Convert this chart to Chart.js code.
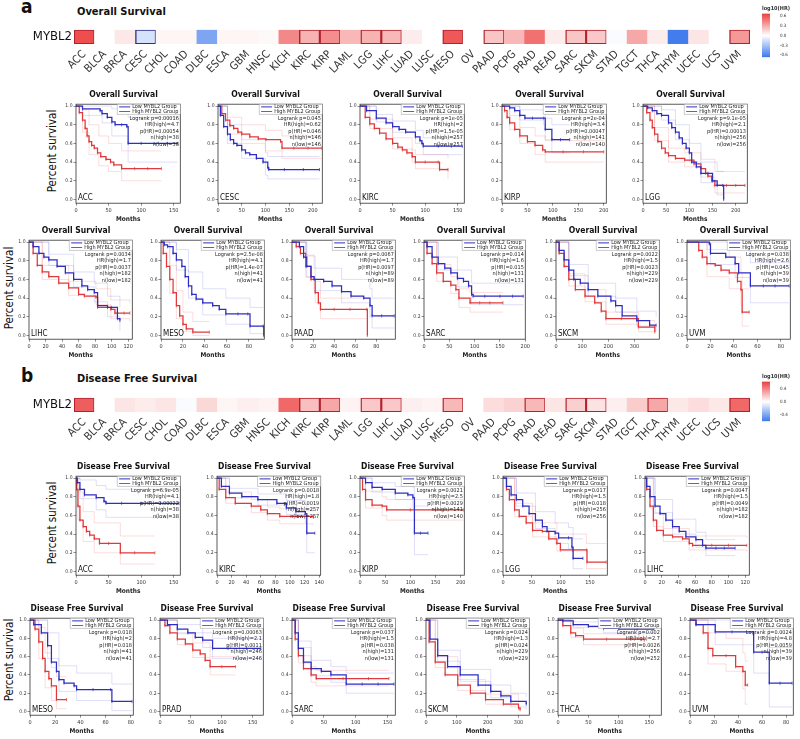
<!DOCTYPE html>
<html>
<head>
<meta charset="utf-8">
<script src="https://cdn.jsdelivr.net/npm/chart.js@4.4.1/dist/chart.umd.min.js"></script>
<style>
  body { margin: 0; width: 800px; height: 739px; position: relative; overflow: hidden; background: #fff;
         font-family: "Liberation Sans Narrow", "DejaVu Sans Condensed", Roboto, sans-serif; color: #111; }
  canvas { position: absolute; }
  .t { position: absolute; white-space: nowrap; }
  .ps { position: absolute; width: 100px; height: 14px; line-height: 14px; font-size: 11.5px; text-align: center;
        transform: rotate(-90deg); white-space: nowrap; }
</style>
</head>
<body>
<div class="t" style="left:21px;top:-3px;font-size:19px;line-height:19px;font-weight:700">a</div>
<div class="t" style="left:77px;top:6px;font-size:11px;line-height:11px;font-weight:600">Overall Survival</div>
<div class="t" style="left:21px;top:366px;font-size:19px;line-height:19px;font-weight:700">b</div>
<div class="t" style="left:77px;top:373px;font-size:11px;line-height:11px;font-weight:600">Disease Free Survival</div>
<div class="ps" style="left:2px;top:144px">Percent survival</div>
<div class="ps" style="left:-41px;top:281px">Percent survival</div>
<div class="ps" style="left:2px;top:516px">Percent survival</div>
<div class="ps" style="left:-41px;top:653px">Percent survival</div>

<script>
// ---- heatmap data ----
const cancers = ['ACC','BLCA','BRCA','CESC','CHOL','COAD','DLBC','ESCA','GBM','HNSC','KICH','KIRC','KIRP','LAML',
  'LGG','LIHC','LUAD','LUSC','MESO','OV','PAAD','PCPG','PRAD','READ','SARC','SKCM','STAD','TGCT','THCA','THYM','UCEC','UCS','UVM'];
const osHR  = [0.55,0,0.07,-0.13,0.03,0.03,-0.4,0.03,0.03,0.02,0.37,0.24,0.35,0.22,0.24,0.22,0.06,0,0.52,0,0.18,0.22,0.44,0.06,0.18,0.17,-0.02,0.27,0.06,-0.58,0.08,0,0.32];
const osSig = [1,0,0,1,0,0,0,0,0,0,0,1,1,0,1,1,0,0,1,0,1,0,0,0,1,1,0,0,0,0,0,0,1];
const dfsHR  = [0.5,0,0.08,0.06,0.08,-0.02,0.12,0.03,0.05,0.04,0.47,0.2,0.27,0.04,0.17,0.17,0.05,0.04,0.22,0,0.11,0.14,0.22,0.08,0.15,0.09,0.05,0.16,0.27,0.07,0.11,0.07,0.47];
const dfsSig = [1,0,0,0,0,0,0,0,0,0,0,1,1,0,1,1,0,0,1,0,0,0,1,0,1,1,0,0,1,0,0,0,1];
const osBarTicks = [0.6,0.3,0,-0.3,-0.6];
const dfsBarTicks = [0.4,0,-0.4];
const survTicks = [0,0.2,0.4,0.6,0.8,1];

// ---- Overall survival curves: [months, survival]; CI: [months, lower, upper] ----
const osAccLow = [[0,1],[10,0.97],[37,0.95],[40,0.92],[48,0.88],[55,0.83],[60,0.8],[70,0.8],[78,0.78],[80,0.6],[100,0.6],[120,0.6],[140,0.6],[156,0.6]];
const osAccHigh = [[0,1],[5,0.93],[10,0.85],[14,0.76],[17,0.68],[20,0.62],[24,0.58],[28,0.55],[33,0.5],[38,0.46],[46,0.43],[53,0.4],[58,0.37],[70,0.33],[90,0.33],[110,0.33],[131,0.33]];
const osAccLowCI = [[0,1,1],[10,0.9,1],[40,0.82,1],[55,0.68,0.97],[80,0.4,0.88],[156,0.4,0.88]];
const osAccHighCI = [[0,1,1],[10,0.72,0.96],[20,0.48,0.8],[35,0.36,0.68],[50,0.3,0.6],[70,0.2,0.52],[131,0.2,0.52]];
const osAccStats = ['Logrank p=0.00016','HR(high)=4.7','p(HR)=0.00054','n(high)=38','n(low)=38'];

const osCescLow = [[0,1],[5,0.9],[12,0.78],[20,0.7],[26,0.64],[33,0.6],[40,0.58],[50,0.53],[58,0.5],[67,0.48],[81,0.44],[95,0.4],[105,0.34],[107,0.32],[140,0.32],[180,0.32],[214,0.32]];
const osCescHigh = [[0,1],[8,0.92],[16,0.85],[25,0.79],[33,0.76],[42,0.72],[50,0.7],[67,0.67],[85,0.65],[101,0.64],[132,0.62],[135,0.55],[160,0.55],[190,0.55],[218,0.55]];
const osCescLowCI = [[0,1,1],[20,0.6,0.8],[50,0.44,0.64],[100,0.26,0.5],[105,0.22,0.46],[214,0.22,0.46]];
const osCescHighCI = [[0,1,1],[20,0.7,0.88],[50,0.6,0.8],[100,0.52,0.74],[135,0.44,0.68],[218,0.44,0.68]];
const osCescStats = ['Logrank p=0.045','HR(high)=0.62','p(HR)=0.046','n(high)=146','n(low)=146'];

const osKircLow = [[0,1],[10,0.95],[25,0.87],[40,0.82],[50,0.78],[60,0.75],[70,0.72],[85,0.67],[92,0.63],[95,0.6],[97,0.57],[120,0.57],[140,0.57],[157,0.57]];
const osKircHigh = [[0,1],[8,0.88],[15,0.81],[22,0.76],[30,0.71],[40,0.65],[50,0.6],[58,0.56],[65,0.53],[72,0.5],[80,0.46],[85,0.4],[100,0.4],[120,0.4],[122,0.32],[135,0.32]];
const osKircLowCI = [[0,1,1],[25,0.83,0.91],[50,0.72,0.84],[85,0.6,0.74],[97,0.48,0.66],[157,0.48,0.66]];
const osKircHighCI = [[0,1,1],[15,0.76,0.86],[50,0.54,0.66],[80,0.4,0.53],[85,0.33,0.48],[120,0.33,0.48],[135,0.22,0.44]];
const osKircStats = ['Logrank p=1e-05','HR(high)=2','p(HR)=1.5e-05','n(high)=257','n(low)=257'];

const osKirpLow = [[0,1],[15,0.98],[25,0.95],[35,0.9],[45,0.87],[60,0.87],[82,0.87],[85,0.75],[98,0.64],[115,0.64],[133,0.64]];
const osKirpHigh = [[0,1],[5,0.95],[10,0.88],[15,0.82],[25,0.75],[35,0.68],[50,0.62],[65,0.58],[80,0.53],[85,0.51],[120,0.51],[160,0.51],[200,0.51]];
const osKirpLowCI = [[0,1,1],[35,0.85,0.96],[82,0.8,0.95],[85,0.64,0.87],[98,0.5,0.8],[133,0.5,0.8]];
const osKirpHighCI = [[0,1,1],[15,0.75,0.9],[35,0.6,0.77],[65,0.48,0.68],[85,0.4,0.63],[200,0.4,0.63]];
const osKirpStats = ['Logrank p=2e-04','HR(high)=3.4','p(HR)=0.00047','n(high)=141','n(low)=140'];

const osLggLow = [[0,1],[10,0.98],[20,0.95],[30,0.92],[40,0.9],[55,0.82],[62,0.77],[70,0.72],[78,0.66],[85,0.6],[93,0.55],[100,0.5],[105,0.4],[115,0.35],[125,0.28],[140,0.28],[150,0.2],[160,0.15],[172,0.15],[174,0]];
const osLggHigh = [[0,1],[8,0.93],[15,0.85],[20,0.77],[25,0.7],[32,0.62],[40,0.55],[48,0.5],[55,0.47],[70,0.44],[90,0.42],[110,0.38],[125,0.33],[135,0.28],[140,0.25],[148,0.2],[155,0.15],[180,0.15],[200,0.15],[220,0.15]];
const osLggLowCI = [[0,1,1],[40,0.85,0.96],[70,0.64,0.8],[100,0.4,0.6],[125,0.18,0.4],[160,0.05,0.3],[175,0.05,0.3]];
const osLggHighCI = [[0,1,1],[25,0.63,0.77],[55,0.4,0.55],[90,0.35,0.5],[125,0.24,0.43],[155,0.07,0.3],[220,0.07,0.3]];
const osLggStats = ['Logrank p=9.1e-05','HR(high)=2.1','p(HR)=0.00013','n(high)=256','n(low)=256'];

const osLihcLow = [[0,1],[5,0.95],[12,0.88],[18,0.84],[24,0.81],[34,0.74],[44,0.67],[54,0.6],[64,0.53],[71,0.49],[79,0.46],[83,0.32],[95,0.3],[100,0.3],[107,0.18],[110,0.16]];
const osLihcHigh = [[0,1],[5,0.88],[10,0.75],[16,0.68],[24,0.63],[36,0.56],[48,0.51],[60,0.44],[67,0.42],[81,0.41],[83,0.3],[99,0.28],[104,0.24],[115,0.24],[122,0.24]];
const osLihcLowCI = [[0,1,1],[24,0.75,0.87],[54,0.52,0.68],[79,0.36,0.56],[95,0.2,0.42],[110,0.05,0.3]];
const osLihcHighCI = [[0,1,1],[16,0.6,0.75],[48,0.43,0.58],[81,0.33,0.5],[99,0.18,0.38],[122,0.15,0.35]];
const osLihcStats = ['Logrank p=0.0034','HR(high)=1.7','p(HR)=0.0037','n(high)=182','n(low)=182'];

const osMesoLow = [[0,1],[3,0.97],[6,0.95],[11,0.88],[14,0.81],[19,0.74],[22,0.63],[25,0.53],[28,0.44],[32,0.39],[38,0.35],[47,0.32],[53,0.28],[59,0.23],[70,0.23],[79,0.23],[81,0.1],[93,0.1],[93.5,0]];
const osMesoHigh = [[0,1],[2,0.88],[5,0.74],[8,0.6],[11,0.46],[14,0.32],[17,0.21],[20,0.12],[23,0.07],[29,0.035],[44,0.035]];
const osMesoLowCI = [[0,1,1],[14,0.7,0.92],[25,0.4,0.68],[38,0.22,0.5],[59,0.12,0.4],[81,0.02,0.3],[93,0.02,0.3]];
const osMesoHighCI = [[0,1,1],[8,0.45,0.75],[14,0.18,0.48],[20,0.04,0.25],[29,0,0.15],[44,0,0.15]];
const osMesoStats = ['Logrank p=2.5e-08','HR(high)=4.1','p(HR)=1.4e-07','n(high)=41','n(low)=41'];

const osPaadLow = [[0,1],[7,0.95],[11,0.84],[14,0.74],[18,0.63],[21,0.6],[30,0.58],[38,0.53],[47,0.47],[56,0.42],[68,0.4],[74,0.32],[76,0.21],[85,0.21],[97,0.21]];
const osPaadHigh = [[0,1],[4,0.95],[8,0.88],[13,0.74],[18,0.6],[22,0.46],[25,0.35],[27,0.28],[40,0.28],[55,0.28],[71,0.28],[71.5,0]];
const osPaadLowCI = [[0,1,1],[14,0.62,0.86],[21,0.48,0.72],[47,0.35,0.6],[74,0.2,0.5],[76,0.08,0.4],[97,0.08,0.4]];
const osPaadHighCI = [[0,1,1],[13,0.63,0.85],[22,0.35,0.58],[27,0.18,0.4],[71,0.18,0.4]];
const osPaadStats = ['Logrank p=0.0067','HR(high)=1.7','p(HR)=0.0097','n(high)=89','n(low)=89'];

const osSarcLow = [[0,1],[6,0.95],[16,0.84],[28,0.77],[41,0.72],[53,0.67],[66,0.61],[78,0.58],[88,0.53],[94,0.44],[97,0.42],[120,0.42],[150,0.42],[175,0.42],[196,0.42]];
const osSarcHigh = [[0,1],[6,0.88],[16,0.77],[25,0.67],[38,0.58],[53,0.54],[63,0.49],[69,0.4],[91,0.35],[110,0.35],[130,0.35],[156,0.35]];
const osSarcLowCI = [[0,1,1],[28,0.7,0.84],[66,0.52,0.7],[94,0.33,0.56],[196,0.33,0.56]];
const osSarcHighCI = [[0,1,1],[25,0.58,0.76],[53,0.45,0.63],[69,0.3,0.5],[91,0.25,0.46],[156,0.25,0.46]];
const osSarcStats = ['Logrank p=0.014','HR(high)=1.6','p(HR)=0.015','n(high)=131','n(low)=131'];

const osSkcmLow = [[0,1],[12,0.91],[31,0.81],[49,0.7],[68,0.6],[93,0.56],[123,0.49],[160,0.42],[210,0.37],[228,0.32],[253,0.21],[309,0.16],[358,0.11],[383,0.11]];
const osSkcmHigh = [[0,1],[12,0.88],[31,0.74],[49,0.6],[74,0.49],[111,0.42],[148,0.35],[173,0.26],[191,0.18],[250,0.18],[309,0.18],[315,0.09],[377,0.09],[378,0.04]];
const osSkcmLowCI = [[0,1,1],[49,0.64,0.76],[123,0.42,0.56],[228,0.25,0.4],[309,0.1,0.26],[383,0.04,0.2]];
const osSkcmHighCI = [[0,1,1],[49,0.53,0.66],[111,0.36,0.49],[191,0.12,0.25],[315,0.04,0.16],[377,0.02,0.14]];
const osSkcmStats = ['Logrank p=0.0022','HR(high)=1.5','p(HR)=0.0023','n(high)=229','n(low)=229'];

const osUvmLow = [[0,1],[19,0.98],[20,0.88],[33,0.84],[41,0.77],[44,0.67],[54,0.53],[65,0.53],[75,0.53],[87,0.53]];
const osUvmHigh = [[0,1],[10,0.91],[13,0.84],[17,0.77],[24,0.75],[29,0.7],[36,0.67],[43,0.58],[46,0.49],[47,0.25],[53,0.25]];
const osUvmLowCI = [[0,1,1],[20,0.76,1],[41,0.62,0.92],[54,0.35,0.78],[87,0.35,0.78]];
const osUvmHighCI = [[0,1,1],[17,0.63,0.92],[36,0.5,0.84],[46,0.32,0.68],[47,0.1,0.5],[53,0.1,0.5]];
const osUvmStats = ['Logrank p=0.038','HR(high)=2.6','p(HR)=0.045','n(high)=39','n(low)=39'];

// ---- Disease free survival curves ----
const dfsAccLow = [[0,1],[2,0.95],[6,0.88],[13,0.82],[31,0.79],[43,0.75],[46,0.73],[70,0.73],[100,0.73],[130,0.73],[158,0.73]];
const dfsAccHigh = [[0,1],[1,0.88],[3,0.7],[6,0.55],[11,0.48],[16,0.43],[21,0.39],[28,0.35],[36,0.3],[50,0.3],[68,0.2],[90,0.2],[121,0.2]];
const dfsAccLowCI = [[0,1,1],[6,0.78,0.98],[31,0.66,0.92],[46,0.58,0.88],[158,0.58,0.88]];
const dfsAccHighCI = [[0,1,1],[3,0.55,0.85],[11,0.32,0.64],[28,0.2,0.52],[68,0.08,0.38],[121,0.08,0.38]];
const dfsAccStats = ['Logrank p=6.9e-05','HR(high)=4.1','p(HR)=0.00022','n(high)=38','n(low)=38'];

const dfsKircLow = [[0,1],[6,0.91],[17,0.84],[34,0.8],[56,0.77],[82,0.73],[95,0.68],[108,0.64],[121,0.62],[123,0.41],[134,0.41]];
const dfsKircHigh = [[0,1],[3,0.88],[12,0.79],[25,0.73],[47,0.7],[60,0.66],[69,0.62],[86,0.59],[110,0.59],[132,0.58]];
const dfsKircLowCI = [[0,1,1],[17,0.79,0.89],[56,0.71,0.83],[95,0.61,0.76],[121,0.52,0.72],[123,0.2,0.65],[134,0.2,0.65]];
const dfsKircHighCI = [[0,1,1],[12,0.73,0.85],[47,0.63,0.77],[69,0.55,0.69],[86,0.51,0.67],[132,0.5,0.66]];
const dfsKircStats = ['Logrank p=0.0018','HR(high)=1.8','p(HR)=0.0019','n(high)=257','n(low)=257'];

const dfsKirpLow = [[0,1],[11,0.95],[24,0.9],[44,0.88],[70,0.84],[95,0.82],[105,0.79],[108,0.41],[120,0.41],[135,0.41]];
const dfsKirpHigh = [[0,1],[5,0.88],[11,0.77],[24,0.71],[44,0.7],[53,0.66],[100,0.66],[150,0.66],[205,0.66]];
const dfsKirpLowCI = [[0,1,1],[24,0.85,0.95],[70,0.77,0.91],[105,0.68,0.9],[108,0.18,0.7],[135,0.18,0.7]];
const dfsKirpHighCI = [[0,1,1],[11,0.68,0.86],[44,0.6,0.8],[53,0.55,0.77],[205,0.55,0.77]];
const dfsKirpStats = ['Logrank p=0.0021','HR(high)=2.5','p(HR)=0.0029','n(high)=141','n(low)=140'];

const dfsLggLow = [[0,1],[6,0.91],[14,0.82],[23,0.77],[34,0.7],[45,0.62],[56,0.55],[68,0.48],[76,0.43],[90,0.41],[96,0.36],[113,0.36],[119,0.26],[121,0.14],[138,0.14]];
const dfsLggHigh = [[0,1],[6,0.88],[11,0.77],[20,0.66],[28,0.59],[40,0.52],[51,0.44],[68,0.43],[79,0.35],[93,0.3],[99,0.23],[120,0.23],[144,0.23],[145,0.1],[178,0.1]];
const dfsLggLowCI = [[0,1,1],[23,0.7,0.84],[56,0.46,0.64],[90,0.3,0.52],[113,0.24,0.47],[121,0.03,0.35],[138,0.03,0.35]];
const dfsLggHighCI = [[0,1,1],[20,0.59,0.73],[51,0.37,0.52],[93,0.22,0.4],[144,0.03,0.3],[178,0.03,0.3]];
const dfsLggStats = ['Logrank p=0.017','HR(high)=1.5','p(HR)=0.018','n(high)=256','n(low)=256'];

const dfsLihcLow = [[0,1],[2,0.91],[6,0.8],[12,0.7],[18,0.62],[25,0.55],[33,0.48],[41,0.43],[49,0.37],[61,0.34],[69,0.28],[73,0.25],[85,0.25],[95,0.25],[108,0.25]];
const dfsLihcHigh = [[0,1],[2,0.88],[6,0.7],[10,0.55],[14,0.44],[22,0.39],[33,0.37],[45,0.35],[53,0.3],[57,0.28],[80,0.28],[100,0.28],[122,0.28]];
const dfsLihcLowCI = [[0,1,1],[12,0.63,0.77],[33,0.4,0.56],[61,0.26,0.42],[73,0.17,0.34],[108,0.17,0.34]];
const dfsLihcHighCI = [[0,1,1],[10,0.48,0.62],[22,0.32,0.46],[53,0.23,0.38],[122,0.21,0.36]];
const dfsLihcStats = ['Logrank p=0.0047','HR(high)=1.5','p(HR)=0.0049','n(high)=182','n(low)=182'];

const dfsMesoLow = [[0,1],[3,0.95],[9,0.86],[14,0.72],[17,0.54],[21,0.44],[23,0.35],[27,0.31],[35,0.28],[37,0.24],[50,0.24],[64,0.24],[65,0.11],[81,0.11]];
const dfsMesoHigh = [[0,1],[4,0.9],[7,0.76],[10,0.58],[12,0.44],[15,0.36],[17,0.28],[21,0.13],[29,0.13]];
const dfsMesoLowCI = [[0,1,1],[14,0.58,0.86],[23,0.22,0.5],[37,0.12,0.42],[65,0.01,0.3],[81,0.01,0.3]];
const dfsMesoHighCI = [[0,1,1],[7,0.58,0.92],[12,0.26,0.64],[17,0.12,0.48],[21,0.03,0.38],[29,0.03,0.38]];
const dfsMesoStats = ['Logrank p=0.018','HR(high)=2','p(HR)=0.018','n(high)=41','n(low)=41'];

const dfsPradLow = [[0,1],[12,0.95],[28,0.9],[45,0.86],[57,0.81],[69,0.78],[85,0.69],[110,0.69],[140,0.69],[163,0.69]];
const dfsPradHigh = [[0,1],[8,0.94],[16,0.86],[28,0.79],[41,0.74],[53,0.67],[65,0.63],[73,0.56],[81,0.49],[100,0.49],[122,0.49]];
const dfsPradLowCI = [[0,1,1],[28,0.86,0.95],[69,0.7,0.86],[85,0.58,0.8],[163,0.58,0.8]];
const dfsPradHighCI = [[0,1,1],[28,0.73,0.85],[53,0.59,0.75],[81,0.4,0.6],[122,0.4,0.6]];
const dfsPradStats = ['Logrank p=0.00063','HR(high)=2.1','p(HR)=0.0011','n(high)=246','n(low)=246'];

const dfsSarcLow = [[0,1],[5,0.86],[10,0.69],[18,0.54],[30,0.47],[46,0.44],[61,0.4],[85,0.3],[110,0.3],[135,0.3],[160,0.3]];
const dfsSarcHigh = [[0,1],[5,0.79],[10,0.61],[18,0.47],[30,0.4],[38,0.36],[80,0.36],[120,0.36],[152,0.36]];
const dfsSarcLowCI = [[0,1,1],[10,0.61,0.77],[30,0.39,0.56],[61,0.32,0.49],[85,0.2,0.42],[160,0.2,0.42]];
const dfsSarcHighCI = [[0,1,1],[10,0.53,0.7],[30,0.32,0.49],[38,0.28,0.45],[152,0.28,0.45]];
const dfsSarcStats = ['Logrank p=0.037','HR(high)=1.5','p(HR)=0.038','n(high)=131','n(low)=131'];

const dfsSkcmLow = [[0,1],[13,0.79],[38,0.61],[70,0.49],[111,0.4],[169,0.29],[210,0.22],[243,0.17],[275,0.11],[325,0.08]];
const dfsSkcmHigh = [[0,1],[10,0.76],[30,0.54],[62,0.4],[103,0.29],[144,0.2],[193,0.13],[251,0.08],[300,0.04],[305,0.02]];
const dfsSkcmLowCI = [[0,1,1],[38,0.55,0.67],[111,0.33,0.46],[210,0.15,0.29],[275,0.05,0.2],[325,0.02,0.16]];
const dfsSkcmHighCI = [[0,1,1],[30,0.48,0.6],[103,0.23,0.35],[193,0.08,0.19],[300,0.01,0.1]];
const dfsSkcmStats = ['Logrank p=0.024','HR(high)=1.3','p(HR)=0.024','n(high)=229','n(low)=229'];

const dfsThcaLow = [[0,1],[8,0.99],[25,0.95],[50,0.93],[75,0.91],[100,0.9],[130,0.9],[158,0.9]];
const dfsThcaHigh = [[0,1],[8,0.94],[21,0.86],[29,0.83],[42,0.79],[80,0.79],[120,0.79],[142,0.78]];
const dfsThcaLowCI = [[0,1,1],[25,0.92,0.98],[75,0.86,0.95],[158,0.85,0.95]];
const dfsThcaHighCI = [[0,1,1],[21,0.81,0.91],[42,0.73,0.85],[142,0.71,0.85]];
const dfsThcaStats = ['Logrank p=0.002','HR(high)=2.7','p(HR)=0.0026','n(high)=256','n(low)=252'];

const dfsUvmLow = [[0,1],[5,0.95],[21,0.87],[35,0.87],[53,0.65],[60,0.65],[66,0.31],[75,0.31],[85,0.31]];
const dfsUvmHigh = [[0,1],[5,0.95],[11,0.86],[15,0.69],[19,0.61],[30,0.61],[38,0.49],[44,0.44],[46,0.29],[48,0.29]];
const dfsUvmLowCI = [[0,1,1],[21,0.73,1],[53,0.42,0.9],[66,0.05,0.7],[85,0.05,0.7]];
const dfsUvmHighCI = [[0,1,1],[15,0.52,0.86],[30,0.44,0.8],[44,0.25,0.64],[46,0.08,0.55],[48,0.08,0.55]];
const dfsUvmStats = ['Logrank p=0.0024','HR(high)=4.8','p(HR)=0.0059','n(high)=39','n(low)=39'];

// ---- panels: name, x max, x step, curves ----
const OS = 'Overall Survival', DFS = 'Disease Free Survival';
const rowA1 = [
  {name:'ACC', xMax:160, step:50, low:osAccLow, high:osAccHigh, lowCI:osAccLowCI, highCI:osAccHighCI, stats:osAccStats},
  {name:'CESC', xMax:220, step:50, low:osCescLow, high:osCescHigh, lowCI:osCescLowCI, highCI:osCescHighCI, stats:osCescStats},
  {name:'KIRC', xMax:160, step:50, low:osKircLow, high:osKircHigh, lowCI:osKircLowCI, highCI:osKircHighCI, stats:osKircStats},
  {name:'KIRP', xMax:205, step:50, low:osKirpLow, high:osKirpHigh, lowCI:osKirpLowCI, highCI:osKirpHighCI, stats:osKirpStats},
  {name:'LGG', xMax:225, step:50, low:osLggLow, high:osLggHigh, lowCI:osLggLowCI, highCI:osLggHighCI, stats:osLggStats}
];
const rowA2 = [
  {name:'LIHC', xMax:125, step:20, low:osLihcLow, high:osLihcHigh, lowCI:osLihcLowCI, highCI:osLihcHighCI, stats:osLihcStats},
  {name:'MESO', xMax:94, step:20, low:osMesoLow, high:osMesoHigh, lowCI:osMesoLowCI, highCI:osMesoHighCI, stats:osMesoStats},
  {name:'PAAD', xMax:98, step:20, low:osPaadLow, high:osPaadHigh, lowCI:osPaadLowCI, highCI:osPaadHighCI, stats:osPaadStats},
  {name:'SARC', xMax:200, step:50, low:osSarcLow, high:osSarcHigh, lowCI:osSarcLowCI, highCI:osSarcHighCI, stats:osSarcStats},
  {name:'SKCM', xMax:395, step:100, low:osSkcmLow, high:osSkcmHigh, lowCI:osSkcmLowCI, highCI:osSkcmHighCI, stats:osSkcmStats},
  {name:'UVM', xMax:88, step:20, low:osUvmLow, high:osUvmHigh, lowCI:osUvmLowCI, highCI:osUvmHighCI, stats:osUvmStats}
];
const rowB1 = [
  {name:'ACC', xMax:160, step:50, low:dfsAccLow, high:dfsAccHigh, lowCI:dfsAccLowCI, highCI:dfsAccHighCI, stats:dfsAccStats},
  {name:'KIRC', xMax:142, step:20, low:dfsKircLow, high:dfsKircHigh, lowCI:dfsKircLowCI, highCI:dfsKircHighCI, stats:dfsKircStats},
  {name:'KIRP', xMax:207, step:50, low:dfsKirpLow, high:dfsKirpHigh, lowCI:dfsKirpLowCI, highCI:dfsKirpHighCI, stats:dfsKirpStats},
  {name:'LGG', xMax:180, step:50, low:dfsLggLow, high:dfsLggHigh, lowCI:dfsLggLowCI, highCI:dfsLggHighCI, stats:dfsLggStats},
  {name:'LIHC', xMax:125, step:20, low:dfsLihcLow, high:dfsLihcHigh, lowCI:dfsLihcLowCI, highCI:dfsLihcHighCI, stats:dfsLihcStats}
];
const rowB2 = [
  {name:'MESO', xMax:82, step:20, low:dfsMesoLow, high:dfsMesoHigh, lowCI:dfsMesoLowCI, highCI:dfsMesoHighCI, stats:dfsMesoStats},
  {name:'PRAD', xMax:167, step:50, low:dfsPradLow, high:dfsPradHigh, lowCI:dfsPradLowCI, highCI:dfsPradHighCI, stats:dfsPradStats},
  {name:'SARC', xMax:162, step:50, low:dfsSarcLow, high:dfsSarcHigh, lowCI:dfsSarcLowCI, highCI:dfsSarcHighCI, stats:dfsSarcStats},
  {name:'SKCM', xMax:335, step:100, low:dfsSkcmLow, high:dfsSkcmHigh, lowCI:dfsSkcmLowCI, highCI:dfsSkcmHighCI, stats:dfsSkcmStats},
  {name:'THCA', xMax:170, step:50, low:dfsThcaLow, high:dfsThcaHigh, lowCI:dfsThcaLowCI, highCI:dfsThcaHighCI, stats:dfsThcaStats},
  {name:'UVM', xMax:86, step:20, low:dfsUvmLow, high:dfsUvmHigh, lowCI:dfsUvmLowCI, highCI:dfsUvmHighCI, stats:dfsUvmStats}
];

// ---- drawing ----
const FONT = '"Liberation Sans Narrow", "DejaVu Sans Condensed", Roboto, sans-serif';
const BLUE = '#2e2ec2', RED = '#e0393b';
Chart.defaults.font.family = FONT;
Chart.defaults.color = '#222';
Chart.defaults.animation = false;

function colorFor(v) {
  const t = Math.max(-1, Math.min(1, v / 0.6));
  const end = t >= 0 ? [236, 62, 62] : [60, 120, 236];
  const a = Math.abs(t);
  return 'rgb(' + end.map(e => Math.round(255 + (e - 255) * a)).join(',') + ')';
}

function addCanvas(left, top, width, height) {
  const c = document.createElement('canvas');
  c.width = Math.round(width);
  c.height = Math.round(height);
  c.style.left = left + 'px';
  c.style.top = top + 'px';
  document.body.appendChild(c);
  return c;
}

function drawHeatmap(cellTop, values, sig) {
  const cv = addCanvas(0, cellTop - 3, 756, 60);
  new Chart(cv, {
    type: 'bar',
    data: {
      labels: cancers,
      datasets: [{
        data: cancers.map(() => [0, 1]),
        backgroundColor: values.map(colorFor),
        borderColor: values.map((v, i) => sig[i] ? (v < 0 ? '#2d2d90' : '#b3222c') : 'rgba(0,0,0,0)'),
        borderWidth: sig.map(s => s ? 1.4 : 0),
        borderSkipped: false,
        categoryPercentage: 1,
        barPercentage: 1
      }]
    },
    options: {
      responsive: false,
      layout: { padding: { top: 3, right: 6, left: 0, bottom: 0 } },
      plugins: { legend: { display: false }, tooltip: { enabled: false } },
      scales: {
        x: {
          grid: { display: false, drawTicks: false }, border: { display: false },
          ticks: { autoSkip: false, minRotation: 45, maxRotation: 45, padding: 4, font: { size: 11 }, color: '#333' },
          afterFit: s => { s.height = 36; }
        },
        y: {
          min: 0, max: 1, grid: { display: false, drawTicks: false }, border: { display: false },
          afterBuildTicks: s => { s.ticks = [{ value: 0.5 }]; },
          ticks: { callback: () => 'MYBL2', font: { size: 13 }, color: '#111', padding: 2 },
          afterFit: s => { s.width = 74; }
        }
      }
    }
  });
}

function drawColorBar(barTop, barBottom, min, max, ticks) {
  const titleH = 5.5 * 1.2 + 2;
  const cv = addCanvas(762, barTop - titleH - 1, 34, Math.ceil(titleH + 2 + barBottom - barTop));
  new Chart(cv, {
    type: 'bar',
    data: {
      labels: [''],
      datasets: [{
        data: [[min, max]],
        categoryPercentage: 1, barPercentage: 1,
        backgroundColor: ctx => {
          const a = ctx.chart.chartArea;
          if (!a) return '#fff';
          const g = ctx.chart.ctx.createLinearGradient(0, a.bottom, 0, a.top);
          g.addColorStop(0, colorFor(min));
          g.addColorStop(-min / (max - min), '#ffffff');
          g.addColorStop(1, colorFor(max));
          return g;
        }
      }]
    },
    options: {
      responsive: false,
      layout: { padding: { top: 1, left: 0, right: 0, bottom: 1 } },
      plugins: {
        legend: { display: false }, tooltip: { enabled: false },
        title: { display: true, text: 'log10(HR)', align: 'start', font: { size: 5.5 }, color: '#333', padding: { top: 0, bottom: 2 } }
      },
      scales: {
        x: { display: false },
        y: {
          position: 'right', min, max, grid: { display: false }, border: { display: false },
          afterBuildTicks: s => { s.ticks = ticks.map(v => ({ value: v })); },
          ticks: { font: { size: 4.5 }, color: '#333', padding: 2, callback: v => v.toFixed(1) },
          afterFit: s => { s.width = 26; }
        }
      }
    }
  });
}

const kmText = {
  id: 'kmText',
  afterDatasetsDraw(chart, args, o) {
    if (!o.stats) return;
    const { ctx, chartArea: a } = chart;
    ctx.save();
    ctx.strokeStyle = '#333';
    ctx.lineWidth = 0.8;
    ctx.strokeRect(a.left, a.top, a.right - a.left, a.bottom - a.top);
    ctx.font = '5.5px ' + FONT;
    const lw = ctx.measureText('High MYBL2 Group').width + 17, lh = 10;
    const lx = a.right - lw, ly = a.top;
    ctx.fillStyle = '#fff';
    ctx.fillRect(lx, ly, lw, lh);
    ctx.strokeStyle = '#999';
    ctx.lineWidth = 0.5;
    ctx.strokeRect(lx, ly, lw, lh);
    ctx.textBaseline = 'middle';
    ctx.textAlign = 'left';
    [[BLUE, 'Low MYBL2 Group'], [RED, 'High MYBL2 Group']].forEach(([c, t], i) => {
      const y = ly + 2.7 + i * 4.6;
      ctx.strokeStyle = c;
      ctx.lineWidth = 1;
      ctx.beginPath(); ctx.moveTo(lx + 2, y); ctx.lineTo(lx + 13, y); ctx.stroke();
      ctx.fillStyle = '#222';
      ctx.fillText(t, lx + 15, y);
    });
    ctx.textAlign = 'right';
    o.stats.forEach((t, i) => ctx.fillText(t, a.right - 1.5, a.top + 14 + i * 6.6));
    ctx.textAlign = 'left';
    ctx.font = '8px ' + FONT;
    ctx.fillStyle = '#111';
    ctx.fillText(o.name, a.left + 2, a.bottom - 5);
    ctx.restore();
  }
};

function drawKM(p, title, boxLeft, boxTop, boxW, boxH) {
  const titleH = 8.5 * 1.2 + 4, axisH = 20, yW = 12;
  const H = Math.ceil(1 + titleH + boxH + axisH + 1);
  const cv = addCanvas(boxLeft - yW, boxTop - titleH - 1, boxW + yW + 2, H);
  const xy = arr => arr.map(([x, y]) => ({ x, y }));
  const band = (arr, k) => arr.map(r => ({ x: r[0], y: r[k] }));
  const curve = (arr, color) => ({
    data: xy(arr), borderColor: color, borderWidth: 1.25, stepped: true,
    pointStyle: 'line', pointRotation: 90, pointBorderColor: color, pointBorderWidth: 0.7,
    pointRadius: c => c.dataIndex === 0 ? 0 : 1.6
  });
  const ci = (arr, k, color) => ({ data: band(arr, k), borderColor: color, borderWidth: 0.7, stepped: true, pointRadius: 0 });
  const lightBlue = 'rgba(110,110,230,0.32)', lightRed = 'rgba(235,105,105,0.32)';
  const tickGrid = { display: true, drawOnChartArea: false, tickLength: 2.5, color: '#444', lineWidth: 0.6 };
  new Chart(cv, {
    type: 'line',
    data: {
      datasets: [
        curve(p.low, BLUE), curve(p.high, RED),
        ci(p.lowCI, 1, lightBlue), ci(p.lowCI, 2, lightBlue),
        ci(p.highCI, 1, lightRed), ci(p.highCI, 2, lightRed)
      ]
    },
    options: {
      responsive: false,
      layout: { padding: { top: 1, right: 2, left: 0, bottom: H - (1 + titleH + boxH + axisH) } },
      plugins: {
        legend: { display: false }, tooltip: { enabled: false },
        title: { display: true, text: title, font: { size: 8.5, weight: '600' }, color: '#111', padding: { top: 0, bottom: 4 } },
        kmText: { name: p.name, stats: p.stats }
      },
      scales: {
        x: {
          type: 'linear', min: 0, max: p.xMax, grid: tickGrid, border: { display: false },
          afterBuildTicks: s => {
            const t = [];
            for (let v = 0; v <= p.xMax; v += p.step) t.push({ value: v });
            s.ticks = t;
          },
          ticks: { autoSkip: false, maxRotation: 0, font: { size: 5.5 }, color: '#333', padding: 2 },
          title: { display: true, text: 'Months', font: { size: 6.5, weight: '600' }, color: '#222', padding: { top: 0, bottom: 0 } },
          afterFit: s => { s.height = axisH; }
        },
        y: {
          min: -0.04, max: 1.02, grid: tickGrid, border: { display: false },
          afterBuildTicks: s => { s.ticks = survTicks.map(v => ({ value: v })); },
          ticks: { font: { size: 5 }, color: '#333', padding: 1, callback: v => v.toFixed(1) },
          afterFit: s => { s.width = yW; }
        }
      }
    },
    plugins: [kmText]
  });
}

drawHeatmap(23, osHR, osSig);
drawHeatmap(391, dfsHR, dfsSig);
drawColorBar(14, 60.7, -0.66, 0.66, osBarTicks);
drawColorBar(382, 425, -0.6, 0.62, dfsBarTicks);

const geoA1 = { top: 104, h: 99, w: 107, lefts: [76, 218, 360, 502, 643] };
const geoA2 = { top: 240, h: 99, w: 106, lefts: [29, 161, 292, 424, 556, 687] };
const geoB1 = { top: 476, h: 99, w: 107, lefts: [76, 217, 360, 503, 645] };
const geoB2 = { top: 618, h: 97, w: 106, lefts: [30, 160, 292, 426, 558, 690] };

[[rowA1, OS, geoA1], [rowA2, OS, geoA2], [rowB1, DFS, geoB1], [rowB2, DFS, geoB2]].forEach(([row, title, g]) => {
  row.forEach((p, i) => drawKM(p, title, g.lefts[i], g.top, g.w, g.h));
});
</script>
</body>
</html>
